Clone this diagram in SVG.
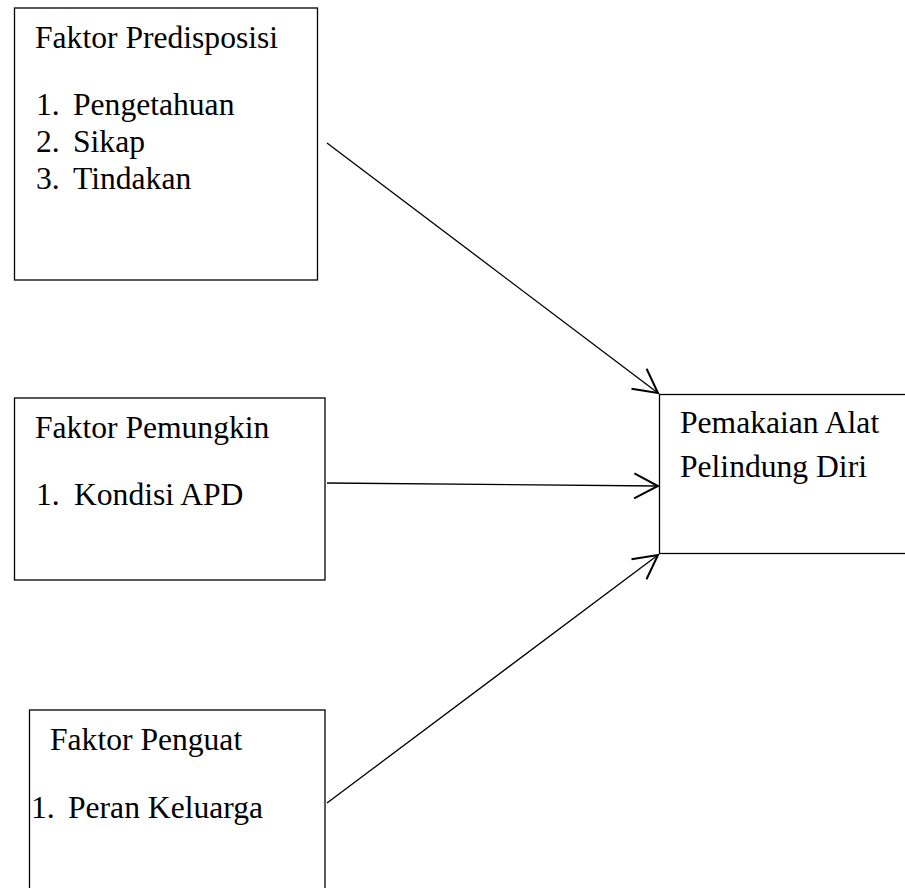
<svg xmlns="http://www.w3.org/2000/svg" width="905" height="888" viewBox="0 0 905 888">
<defs>
<style>
.box{fill:#fff;stroke:#000;stroke-width:1.3}
.t{font-family:'Liberation Serif','DejaVu Serif',serif;font-size:31.6px;fill:#000}
.c{stroke:#000;stroke-width:1.3;fill:none;marker-end:url(#ah)}
</style>
<marker id="ah" markerUnits="userSpaceOnUse" markerWidth="30" markerHeight="30" viewBox="-22 -12 24 24" refX="0" refY="0" orient="auto">
<path d="M-19,-10 L0,0 L-19,10" fill="none" stroke="#000" stroke-width="1.6"/>
</marker>
</defs>
<rect width="905" height="888" fill="#fff"/>
<g id="n1">
<rect class="box" x="14.5" y="8" width="303" height="272"/>
<text class="t" x="35" y="48">Faktor Predisposisi</text>
<text class="t" x="36" y="115">1.</text><text class="t" x="73" y="115">Pengetahuan</text>
<text class="t" x="36" y="152">2.</text><text class="t" x="73" y="152">Sikap</text>
<text class="t" x="36" y="189">3.</text><text class="t" x="73" y="189">Tindakan</text>
</g>
<g id="n2">
<rect class="box" x="14.5" y="398" width="310.5" height="182"/>
<text class="t" x="35" y="438">Faktor Pemungkin</text>
<text class="t" x="36" y="505">1.</text><text class="t" x="74" y="505">Kondisi APD</text>
</g>
<g id="n3">
<rect class="box" x="29.5" y="710" width="295.5" height="190"/>
<text class="t" x="50" y="750">Faktor Penguat</text>
<text class="t" x="31" y="818">1.</text><text class="t" x="68" y="818">Peran Keluarga</text>
</g>
<g id="n4">
<rect class="box" x="659.5" y="394.5" width="260" height="159"/>
<text class="t" x="680" y="433">Pemakaian Alat</text>
<text class="t" x="680" y="477">Pelindung Diri</text>
</g>
<g id="connectors">
<line class="c" x1="327" y1="143" x2="658" y2="393"/>
<line class="c" x1="327" y1="483" x2="658" y2="486"/>
<line class="c" x1="327" y1="803" x2="658" y2="555"/>
</g>
</svg>
